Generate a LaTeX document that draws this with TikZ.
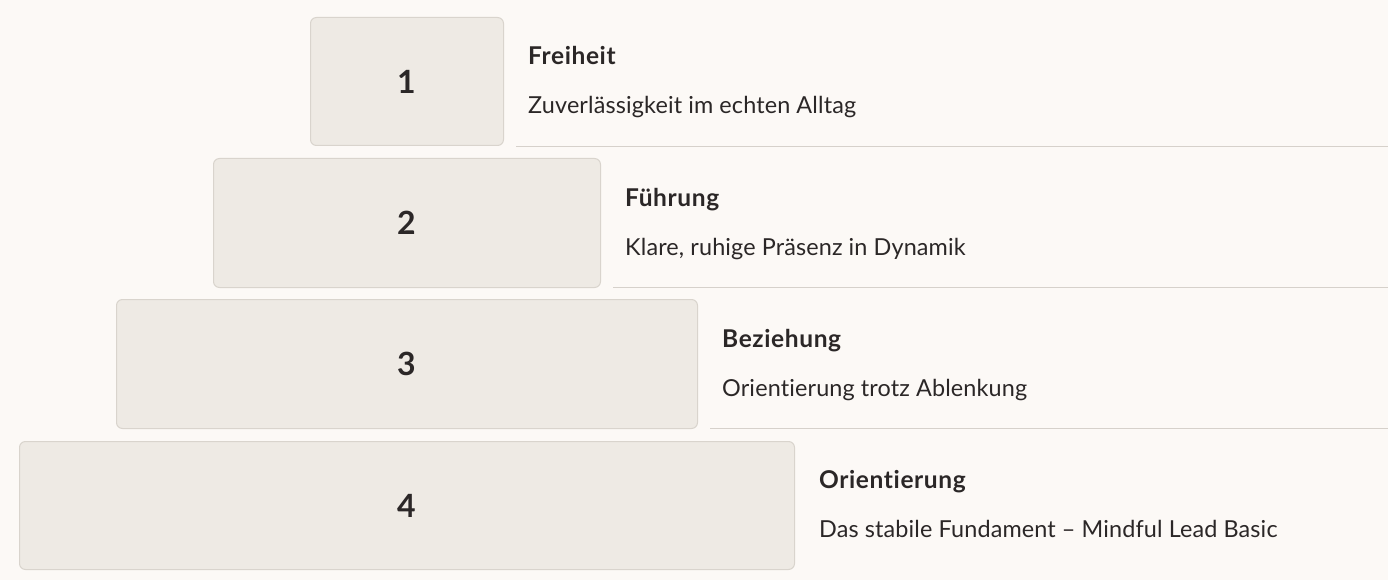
\documentclass[tikz,border=0pt]{standalone}
\usepackage{fontspec}
\setmainfont{Lato}[Ligatures=NoCommon]
\newfontfamily\titlefont{Lato}[Ligatures=NoCommon, LetterSpace=2.5]
\newfontfamily\subfont{Lato}[Ligatures=NoCommon, LetterSpace=0.6]
\definecolor{bg}{HTML}{FCF9F6}
\definecolor{boxfill}{HTML}{EEEAE4}
\definecolor{boxline}{HTML}{D9D4CD}
\definecolor{rule}{HTML}{D6D1CB}
\definecolor{ink}{HTML}{2B2727}
\tikzset{
  stepbox/.style={draw=boxline, fill=boxfill, line width=1pt, rounded corners=6pt},
  numlabel/.style={anchor=base, text=ink, font=\fontsize{32}{36}\selectfont\bfseries, inner sep=0pt},
  titlelabel/.style={anchor=base west, text=ink, font=\titlefont\fontsize{24.5}{28}\selectfont\bfseries, inner sep=0pt},
  sublabel/.style={anchor=base west, text=ink, font=\subfont\fontsize{23.4}{27}\selectfont, inner sep=0pt},
  sepline/.style={draw=rule, line width=1.5pt},
}
\begin{document}
\begin{tikzpicture}[x=1pt, y=-1pt]
\fill[bg] (0,0) rectangle (1388,580);
\useasboundingbox (0,0) rectangle (1388,580);
% boxes
\draw[stepbox] (310.5,17.5) rectangle (503.5,145.5);
\draw[stepbox] (213.5,158.5) rectangle (600.5,287.5);
\draw[stepbox] (116.5,299.5) rectangle (697.5,428.5);
\draw[stepbox] (19.5,441.5) rectangle (794.5,569.5);
% numbers
\node[numlabel] (n1) at (406.5,93.5) {1};
\node[numlabel] (n2) at (406.5,234.5) {2};
\node[numlabel] (n3) at (406.5,375.5) {3};
\node[numlabel] (n4) at (406.5,517) {4};
% titles
\node[titlelabel] (t1) at (528,65) {Freiheit};
\node[sublabel] (s1) at (528,114) {Zuverlässigkeit im echten Alltag};
\node[titlelabel] (t2) at (625,206) {Führung};
\node[sublabel] (s2) at (625,255) {Klare, ruhige Präsenz in Dynamik};
\node[titlelabel] (t3) at (722,347) {Beziehung};
\node[sublabel] (s3) at (722,396) {Orientierung trotz Ablenkung};
\node[titlelabel] (t4) at (819,488) {Orientierung};
\node[sublabel] (s4) at (819,537) {Das stabile Fundament – Mindful Lead Basic};
% separators
\coordinate (l1a) at (516,146.5); \coordinate (l1b) at (1388,146.5);
\coordinate (l2a) at (613,287.5); \coordinate (l2b) at (1388,287.5);
\coordinate (l3a) at (710,428.5); \coordinate (l3b) at (1388,428.5);
\draw[sepline] (l1a) -- (l1b);
\draw[sepline] (l2a) -- (l2b);
\draw[sepline] (l3a) -- (l3b);
\end{tikzpicture}
\end{document}
